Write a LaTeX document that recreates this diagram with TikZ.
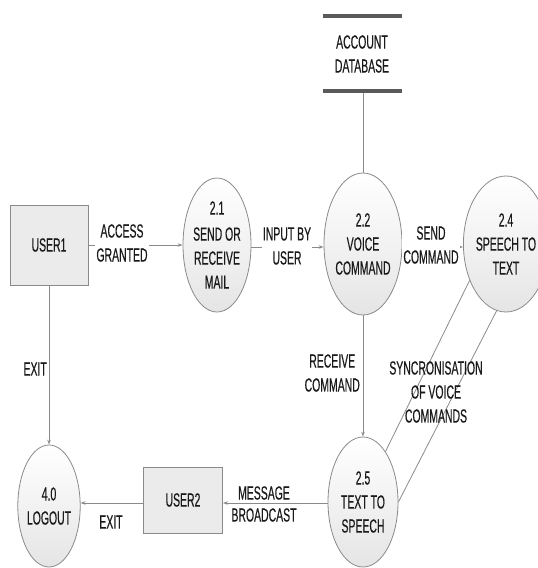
\documentclass[tikz,border=0pt]{standalone}
\usepackage{fontspec}
\setmainfont{Liberation Sans}[FakeStretch=0.55,FakeBold=0.4]
\usetikzlibrary{shapes.geometric,arrows.meta}
\definecolor{edgegray}{HTML}{8A8A8A}
\definecolor{fillgray}{HTML}{F0F0F0}
\definecolor{boxgray}{HTML}{EBEBEB}
\definecolor{txt}{HTML}{1A1A1A}
\definecolor{bargray}{HTML}{5A5A5A}
\tikzset{
  proc/.style={ellipse, draw=edgegray, top color=white, bottom color=fillgray!90!gray, line width=0.8pt, inner sep=0pt, align=center, text=txt},
  ent/.style={rectangle, draw=edgegray, fill=boxgray, line width=0.8pt, inner sep=0pt, align=center, text=txt},
  lbl/.style={align=center, text=txt, inner sep=1pt},
  flow/.style={draw=edgegray, line width=0.8pt, -{Stealth[length=5pt,width=3.5pt]}},
  plain/.style={draw=edgegray, line width=0.8pt},
  bar/.style={draw=bargray, line width=4pt},
}
\begin{document}
\begin{tikzpicture}[x=1pt,y=-1pt,font=\fontsize{19}{24}\selectfont]
\useasboundingbox (0,0) rectangle (538,568);
% nodes
\node[ent, minimum width=78pt, minimum height=80pt] (user1) at (49,245) {USER1};
\node[proc, minimum width=68pt, minimum height=134pt] (p21) at (217,245) {2.1\\[2pt]SEND OR\\RECEIVE\\MAIL};
\node[proc, minimum width=70pt, minimum height=142pt] (p22) at (363,244) {2.2\\VOICE\\COMMAND};
\node[proc, minimum width=66pt, minimum height=136pt] (p24) at (506,244) {2.4\\SPEECH TO\\TEXT};
\node[proc, minimum width=70pt, minimum height=130pt] (p25) at (363,502) {2.5\\TEXT TO\\SPEECH};
\node[proc, minimum width=62pt, minimum height=122pt] (logout) at (49,506) {4.0\\LOGOUT};
\node[ent, minimum width=79pt, minimum height=66pt] (user2) at (183,500) {USER2};
% data store
\coordinate (dbtl) at (323,16);
\coordinate (dbtr) at (402,16);
\coordinate (dbbl) at (323,91);
\coordinate (dbbr) at (402,91);
\draw[bar] (dbtl) -- (dbtr);
\draw[bar] (dbbl) -- (dbbr);
\node[lbl] (db) at (362,54) {ACCOUNT\\DATABASE};
\coordinate (dbin) at (363,93);
% flows
\draw[flow] (user1) -- (p21);
\draw[flow] (p21.east |- 0,247) -- (p22.west |- 0,247);
\draw[flow] (p22.east |- 0,247) -- (p24.west |- 0,247);
\draw[plain] (p22.north) -- (dbin);
\draw[flow] (p22.south) -- (p25.north);
\draw[plain] (p25.66) -- (p24.225);
\draw[plain] (p24.262) -- (p25.0);
\draw[flow] (p25.west |- 0,503) -- (user2.east |- 0,503);
\draw[flow] (user2.west |- 0,503) -- (logout.east |- 0,503);
\draw[flow] (user1.south) -- (logout.north);
% labels
\node[lbl, fill=white] (lag) at (122,243) {ACCESS\\GRANTED};
\node[lbl, fill=white] (liu) at (287,246) {INPUT BY\\USER};
\node[lbl, fill=white] (lsc) at (431,245) {SEND\\COMMAND};
\node[lbl, anchor=east] (lrc) at (361,373) {RECEIVE\\COMMAND};
\node[lbl] (lsync) at (436,392) {SYNCRONISATION\\OF VOICE\\COMMANDS};
\node[lbl, font=\fontsize{19}{22}\selectfont] (lmb) at (264,504) {MESSAGE\\BROADCAST};
\node[lbl] (lex2) at (111,522) {EXIT};
\node[lbl, anchor=east] (lex1) at (48,369) {EXIT};
\end{tikzpicture}
\end{document}
